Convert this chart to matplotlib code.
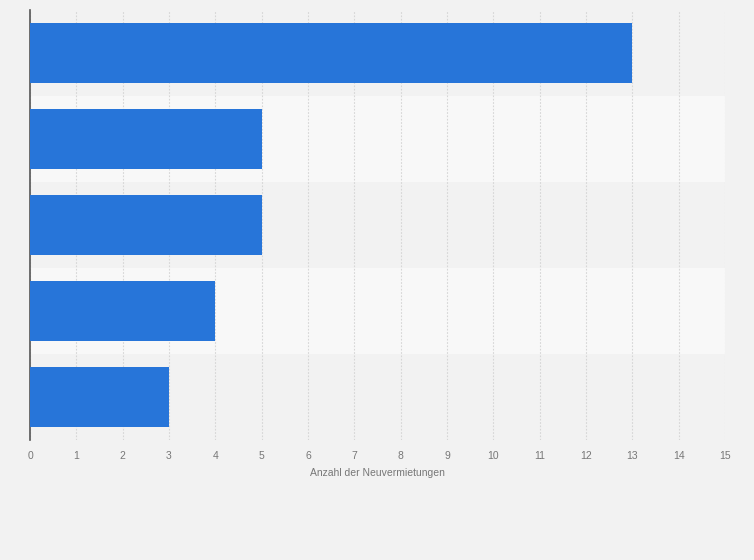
import matplotlib.pyplot as plt
from matplotlib.ticker import MultipleLocator

plt.rcParams["font.family"] = ["Liberation Sans", "DejaVu Sans"]

# Data (category names are not shown in the chart)
categories = ["", "", "", "", ""]
values = [13, 5, 5, 4, 3]
xlabel = "Anzahl der Neuvermietungen"

BG = "#f2f2f2"
BAND = "#f8f8f8"
BAR = "#2775d9"

fig = plt.figure(figsize=(7.54, 5.60), dpi=100, facecolor=BG)
ax = fig.add_axes([30 / 754, 1 - 440 / 560, 695 / 754, 430 / 560])
ax.set_facecolor(BG)

pos = list(range(len(values)))

# alternating row bands
for i in pos:
    if i % 2 == 1:
        ax.axhspan(i - 0.5, i + 0.5, color=BAND, zorder=0, lw=0)

ax.barh(pos, values, height=0.69, color=BAR, zorder=3)

ax.set_xlim(0, 15)
ax.set_ylim(len(values) - 0.5, -0.5)
ax.xaxis.set_major_locator(MultipleLocator(1))
ax.grid(axis="x", color="#d6d6d6", linestyle=(0, (1.5, 1.5)), linewidth=0.8, zorder=1)
ax.set_axisbelow(True)

ax.set_yticks(pos)
ax.set_yticklabels(categories)
ax.tick_params(axis="y", length=0)
ax.tick_params(axis="x", length=0, labelsize=7.5, labelcolor="#777777", pad=8)
for s in ["top", "right", "bottom"]:
    ax.spines[s].set_visible(False)
ax.spines["left"].set_color("#555555")
ax.spines["left"].set_linewidth(1.2)

ax.set_xlabel(xlabel, fontsize=7.5, color="#777777", labelpad=5)

fig.savefig("out.png", dpi=100, facecolor=BG)
